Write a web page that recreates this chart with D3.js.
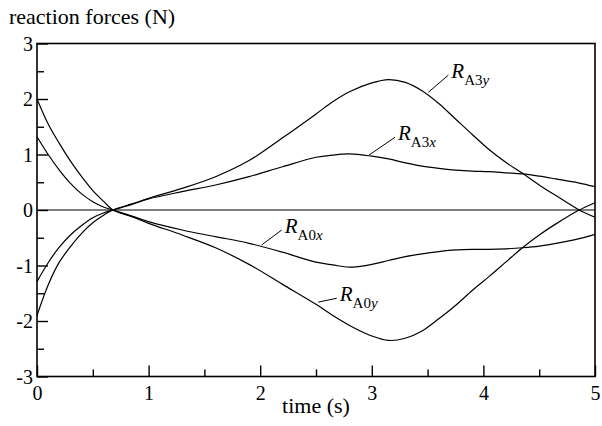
<!DOCTYPE html>
<html>
<head>
<meta charset="utf-8">
<script src="https://cdn.jsdelivr.net/npm/d3@7"></script>
<style>
  html, body { margin: 0; padding: 0; background: #fff; }
  svg { display: block; }
  svg text { font-family: "Liberation Serif", "Times New Roman", serif; }
</style>
</head>
<body>
<svg id="chart" width="602" height="426"></svg>
<script>
// Sample times (s)
const time = [0, 0.1, 0.2, 0.3, 0.4, 0.5, 0.6, 0.68, 0.85, 1.0, 1.3, 1.6, 1.9, 2.2, 2.5, 2.65, 2.8,
              3.0, 3.15, 3.3, 3.45, 3.6, 3.75, 3.9, 4.05, 4.2, 4.35, 4.5, 4.65, 4.85, 5.0];

// Reaction forces (N) at each sample time
const RA3y = [-1.9, -1.35, -0.94, -0.66, -0.42, -0.23, -0.09, 0, 0.11, 0.21, 0.39, 0.60, 0.89, 1.30, 1.73, 1.95, 2.13,
              2.29, 2.35, 2.30, 2.15, 1.92, 1.64, 1.36, 1.09, 0.86, 0.66, 0.45, 0.26, 0.01, -0.13];
const RA3x = [-1.29, -0.95, -0.67, -0.45, -0.28, -0.14, -0.05, 0, 0.10, 0.20, 0.33, 0.45, 0.60, 0.78, 0.95, 0.99, 1.01,
              0.97, 0.92, 0.85, 0.79, 0.75, 0.72, 0.70, 0.69, 0.67, 0.65, 0.61, 0.56, 0.49, 0.42];
const RA0x = [1.32, 1.0, 0.72, 0.48, 0.29, 0.15, 0.05, 0, -0.11, -0.21, -0.36, -0.48, -0.60, -0.76, -0.94, -0.99, -1.03,
              -0.98, -0.91, -0.84, -0.79, -0.75, -0.72, -0.71, -0.71, -0.70, -0.68, -0.65, -0.60, -0.52, -0.44];
const RA0y = [2.0, 1.55, 1.2, 0.88, 0.6, 0.35, 0.15, 0, -0.12, -0.24, -0.45, -0.68, -0.98, -1.34, -1.70, -1.90, -2.08,
              -2.27, -2.35, -2.31, -2.18, -1.96, -1.72, -1.45, -1.20, -0.94, -0.68, -0.45, -0.25, -0.01, 0.13];

// Axis ticks
const xTicks = [0, 1, 2, 3, 4, 5];
const yTicks = [-3, -2, -1, 0, 1, 2, 3];

// Series names: subscript parts and leader line ends [time, force]
const series = [
  { values: RA3y, sub: "A3", axis: "y", from: [3.506, 2.12], to: [3.686, 2.43] },
  { values: RA3x, sub: "A3", axis: "x", from: [2.975, 0.99], to: [3.208, 1.31] },
  { values: RA0x, sub: "A0", axis: "x", from: [2.013, -0.63], to: [2.193, -0.36] },
  { values: RA0y, sub: "A0", axis: "y", from: [2.52, -1.66], to: [2.686, -1.59] }
];

const svg = d3.select("#chart");
const plotLeft = 37, plotRight = 595, plotTop = 43.5, plotBottom = 376.5;

const x = d3.scaleLinear().domain([0, 5]).range([plotLeft, plotRight]);
const y = d3.scaleLinear().domain([-3, 3]).range([plotBottom, plotTop]);

// zero line
svg.append("line")
  .attr("x1", plotLeft).attr("x2", plotRight)
  .attr("y1", y(0)).attr("y2", y(0))
  .attr("stroke", "#000").attr("stroke-width", 1);

// curves
const line = d3.line()
  .x(d => x(d[0]))
  .y(d => y(d[1]))
  .curve(d3.curveCatmullRom.alpha(0.5));

series.forEach(s => {
  svg.append("path")
    .datum(time.map((t, i) => [t, s.values[i]]))
    .attr("d", line)
    .attr("fill", "none")
    .attr("stroke", "#000")
    .attr("stroke-width", 1.2);
});

// labels with leader lines
series.forEach(s => {
  svg.append("line")
    .attr("x1", x(s.from[0])).attr("y1", y(s.from[1]))
    .attr("x2", x(s.to[0])).attr("y2", y(s.to[1]))
    .attr("stroke", "#000").attr("stroke-width", 1);
  const t = svg.append("text")
    .attr("x", x(s.to[0]) + 3)
    .attr("y", y(s.to[1]) + 3)
    .attr("font-size", 21)
    .attr("fill", "#000");
  t.append("tspan").attr("font-style", "italic").text("R");
  t.append("tspan").attr("font-size", 15).attr("dy", 7).text(s.sub);
  t.append("tspan").attr("font-size", 15).attr("font-style", "italic").text(s.axis);
});

// frame
svg.append("rect")
  .attr("x", plotLeft).attr("y", plotTop)
  .attr("width", plotRight - plotLeft).attr("height", plotBottom - plotTop)
  .attr("fill", "none").attr("stroke", "#000").attr("stroke-width", 1.6);

// x axis ticks (inside)
const fmt = d => String(d);
const xAxis = d3.axisBottom(x).tickValues(xTicks).tickSize(-11).tickPadding(15).tickFormat(fmt);
const gx = svg.append("g").attr("transform", `translate(0,${plotBottom})`).call(xAxis);
const xMinor = d3.axisBottom(x).tickValues(d3.range(0.5, 5, 1)).tickSize(-7).tickFormat("");
svg.append("g").attr("transform", `translate(0,${plotBottom})`).call(xMinor);

// y axis ticks (inside)
const yAxis = d3.axisLeft(y).tickValues(yTicks).tickSize(-11).tickPadding(15).tickFormat(fmt);
const gy = svg.append("g").attr("transform", `translate(${plotLeft},0)`).call(yAxis);
const yMinor = d3.axisLeft(y).tickValues(d3.range(-2.5, 3, 1)).tickSize(-7).tickFormat("");
svg.append("g").attr("transform", `translate(${plotLeft},0)`).call(yMinor);

svg.selectAll("g").attr("font-family", null).attr("font-size", null);
svg.selectAll(".domain").remove();
svg.selectAll(".tick line").attr("stroke", "#000").attr("stroke-width", 1.4);
svg.selectAll(".tick text").attr("font-size", 20).attr("fill", "#000");
gx.selectAll(".tick text").attr("y", 9).attr("dy", "0.71em");
gy.selectAll(".tick text").attr("x", -4).attr("dy", "0.34em");

// axis titles
svg.append("text")
  .attr("x", 9).attr("y", 24)
  .attr("font-size", 22).attr("fill", "#000")
  .text("reaction forces (N)");

svg.append("text")
  .attr("x", (plotLeft + plotRight) / 2).attr("y", 413)
  .attr("text-anchor", "middle")
  .attr("font-size", 22).attr("fill", "#000")
  .text("time (s)");
</script>
</body>
</html>
